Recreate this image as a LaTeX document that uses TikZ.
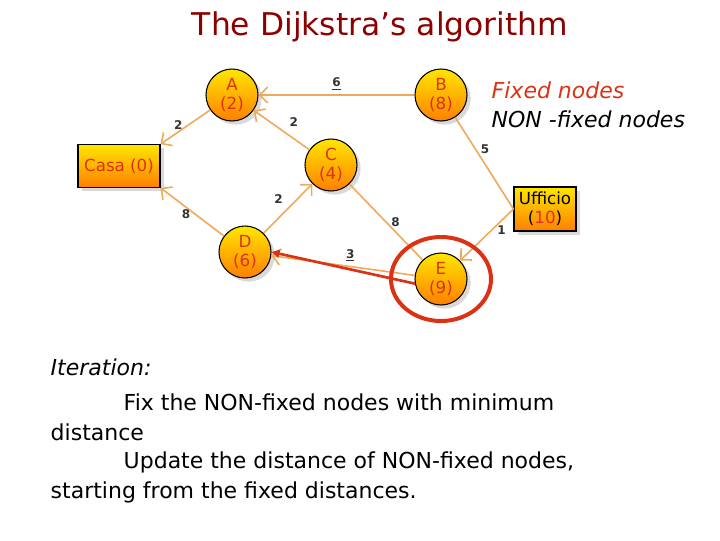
\documentclass[tikz,border=0pt]{standalone}
\usepackage{fontspec}
\setmainfont{DejaVu Sans}
\usetikzlibrary{arrows.meta,shadows}
\definecolor{edge}{RGB}{238,170,90}
\definecolor{nred}{RGB}{220,50,20}
\definecolor{ttl}{RGB}{140,0,0}
\begin{document}
\begin{tikzpicture}[x=0.75pt,y=-0.75pt,
  nd/.style={circle,draw=black,thick,minimum size=39pt,inner sep=0pt,top color=yellow!80!orange,bottom color=orange,text=nred,font=\fontsize{12.5}{14}\selectfont,align=center,drop shadow={opacity=0.3}},
  bx/.style={rectangle,draw=black,thick,top color=yellow!80!orange,bottom color=orange,text=nred,font=\fontsize{12.5}{14}\selectfont,align=center,drop shadow={opacity=0.3}},
  ed/.style={draw=edge,line width=1.2pt,-{Straight Barb[length=6pt]}},
  ln/.style={draw=edge,line width=1.2pt},
  lb/.style={font=\fontsize{9}{10}\selectfont\bfseries,text=black!80},
  tx/.style={anchor=west,font=\fontsize{16.5}{19}\selectfont}]
\useasboundingbox (0,0) rectangle (720,540);
\node[font=\fontsize{23.5}{27}\selectfont,text=ttl] (t) at (380,27) {The Dijkstra's algorithm};
\node[nd] (A) at (232,95) {A\\(2)};
\node[nd] (B) at (441,95) {B\\(8)};
\node[nd] (C) at (331,165) {C\\(4)};
\node[nd] (D) at (245,252) {D\\(6)};
\node[nd] (E) at (441,279) {E\\(9)};
\node[bx,minimum width=61.5pt,minimum height=32pt] (H) at (119,166) {Casa (0)};
\node[bx,minimum width=46.5pt,minimum height=33pt,text=black] (U) at (545,209) {Ufficio\\(\textcolor{nred}{10})};
\draw[ed] (A) -- node[lb,left,pos=0.45] {2} (H.north east);
\draw[ed] (B) -- node[lb,above] {\underline{6}} (A);
\draw[ed] (C) -- node[lb,above right,pos=0.45] {2} (A);
\draw[ed] (D) -- node[lb,above left,pos=0.5] {2} (C);
\draw[ed] (D) -- node[lb,left,pos=0.45] {8} (H.south east);
\draw[ln] (C) -- node[lb,right,pos=0.5] {8} (E);
\draw[ed] (E) -- node[lb,above,pos=0.45] {\underline{3}} (D);
\draw[ln] (B) -- node[lb,right,pos=0.35] {5} (U.west);
\draw[ed] (U.west) -- node[lb,right,pos=0.4] {1} (E);
\draw[nred,line width=2pt,-{Triangle[length=6pt,width=6pt]}] (E.190) -- (D.east);
\draw[nred,line width=3pt] (E) ellipse (50 and 42);
\node[tx,font=\fontsize{16.5}{19}\selectfont\itshape,text=nred] (f) at (487,90) {Fixed nodes};
\node[tx,font=\fontsize{16.5}{19}\selectfont\itshape] (nf) at (487,119) {NON -fixed nodes};
\node[tx,font=\fontsize{16.5}{19}\selectfont\itshape] (it) at (46,367) {Iteration:};
\node[tx] (l1) at (119,402) {Fix the NON-fixed nodes with minimum};
\node[tx] (l2) at (46,432) {distance};
\node[tx] (l3) at (119,462) {Update the distance of NON-fixed nodes,};
\node[tx] (l4) at (46,492) {starting from the fixed distances.};
\end{tikzpicture}
\end{document}
